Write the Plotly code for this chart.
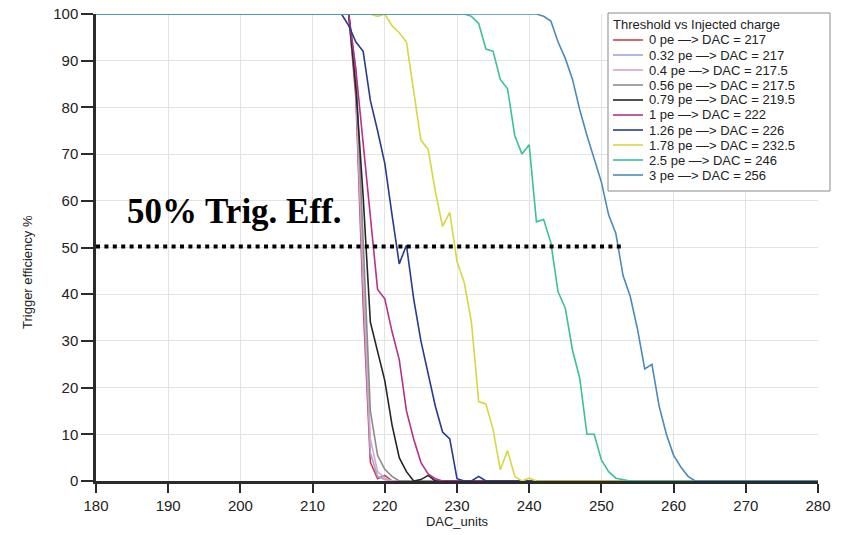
import plotly.graph_objects as go

# ---- trigger efficiency scans (DAC units vs efficiency %) ----
names = [
    "0 pe —> DAC = 217",
    "0.32 pe —> DAC = 217",
    "0.4 pe —> DAC = 217.5",
    "0.56 pe —> DAC = 217.5",
    "0.79 pe —> DAC = 219.5",
    "1 pe —> DAC = 222",
    "1.26 pe —> DAC = 226",
    "1.78 pe —> DAC = 232.5",
    "2.5 pe —> DAC = 246",
    "3 pe —> DAC = 256",
]
colors = ["#cf3f4a", "#a0a3dc", "#d6a6c8", "#8c8c8c", "#262626",
          "#b5318c", "#2a3a8c", "#d8d642", "#3dbf9c", "#4a8bbd"]

x_0pe = [180, 215, 216, 217, 218, 219, 220, 221, 280]
y_0pe = [100, 100, 82, 38, 4, 0.5, 1.2, 0, 0]

x_032pe = [180, 215, 216, 217, 218, 219, 220, 221, 280]
y_032pe = [100, 100, 84, 42, 6, 1, 0.3, 0, 0]

x_04pe = [180, 215, 216, 217, 218, 219, 220, 221, 280]
y_04pe = [100, 100, 86, 45, 9, 2, 0.6, 0, 0]

x_056pe = [180, 215, 216, 217, 218, 219, 220, 221, 222, 280]
y_056pe = [100, 100, 88, 50, 15, 5.5, 2.5, 1, 0, 0]

x_079pe = [180, 215, 216, 217, 218, 219, 220, 221, 222, 223, 224, 225, 226, 227, 280]
y_079pe = [100, 100, 84, 61, 34, 28, 21.5, 12, 5, 2, 0, 0.3, 1.2, 0, 0]

x_1pe = [180, 215, 216, 217, 218, 219, 220, 221, 222, 223, 224, 225, 226, 227, 228, 280]
y_1pe = [100, 100, 88, 72, 56, 41, 39, 32, 26, 15, 9, 4, 1.5, 0.5, 0, 0]

x_126pe = [180, 214, 215, 216, 217, 218, 219, 220, 221, 222, 223, 224, 225, 226, 227,
           228, 229, 230, 231, 232, 233, 234, 280]
y_126pe = [100, 100, 97.5, 94, 92, 81.5, 75, 68, 57, 46.5, 50.5, 39, 30, 23, 16,
           10.5, 9, 0.5, 0, 0, 1, 0, 0]

x_178pe = [180, 218, 219, 220, 221, 222, 223, 224, 225, 226, 227, 228, 229, 230, 231,
           232, 233, 234, 235, 236, 237, 238, 239, 240, 241, 280]
y_178pe = [100, 100, 99.5, 100, 97.5, 96, 94, 84, 73, 71, 62, 54.5, 57.5, 47, 42.5,
           34, 17, 16.5, 11, 2.4, 6.5, 1, 0, 0.6, 0, 0]

x_25pe = [180, 231, 232, 233, 234, 235, 236, 237, 238, 239, 240, 241, 242, 243, 244,
          245, 246, 247, 248, 249, 250, 251, 252, 253, 254, 280]
y_25pe = [100, 100, 99.5, 98, 92.5, 92, 86, 84, 74, 70, 72, 55.5, 56, 51, 40.5,
          37, 28, 22, 10, 10, 4.5, 2, 0.6, 0.3, 0, 0]

x_3pe = [180, 241, 242, 243, 244, 245, 246, 247, 248, 249, 250, 251, 252, 253, 254,
         255, 256, 257, 258, 259, 260, 261, 262, 263, 280]
y_3pe = [100, 100, 99.5, 98.5, 94, 90.5, 86, 79.5, 74, 69, 64, 57, 53, 44, 39.5,
         32.5, 24, 25, 16, 10, 5.5, 3, 1, 0, 0]

xs = [x_0pe, x_032pe, x_04pe, x_056pe, x_079pe, x_1pe, x_126pe, x_178pe, x_25pe, x_3pe]
ys = [y_0pe, y_032pe, y_04pe, y_056pe, y_079pe, y_1pe, y_126pe, y_178pe, y_25pe, y_3pe]

# 50 % efficiency reference line
ref_x = [180, 253]
ref_y = [50.2, 50.2]
ref_label = "50% Trig. Eff."

legend_title = "Threshold vs Injected charge"

SANS = "Liberation Sans, Arial, sans-serif"

fig = go.Figure()
for name, col, x, y in zip(names, colors, xs, ys):
    fig.add_trace(go.Scatter(
        x=x, y=y, name=name, mode="lines",
        line=dict(color=col, width=1.6),
        cliponaxis=False, showlegend=False,
    ))

fig.add_trace(go.Scatter(
    x=ref_x, y=ref_y, mode="lines",
    line=dict(color="black", width=4, dash="4px,4.4px"),
    cliponaxis=False, showlegend=False, hoverinfo="skip",
))

axis_common = dict(
    showgrid=True, gridcolor="#e3e3e3", gridwidth=1,
    showline=True, linecolor="#2b2b2b", linewidth=2.5,
    ticks="outside", tickwidth=2, tickcolor="#2b2b2b",
    tickfont=dict(family=SANS, size=15, color="#222"),
    zeroline=False,
)

fig.update_layout(
    width=842, height=535,
    margin=dict(l=96, r=24, t=14, b=54, autoexpand=False),
    paper_bgcolor="white", plot_bgcolor="white",
    xaxis=dict(range=[180, 280], tick0=180, dtick=10, ticklen=9,
               title=dict(text="DAC_units", font=dict(family=SANS, size=13, color="#222"),
                          standoff=1),
               **axis_common),
    yaxis=dict(range=[0, 100], tick0=0, dtick=10, ticklen=12, **axis_common),
)

# y-axis title
fig.add_annotation(
    text="Trigger efficiency %", xref="paper", yref="paper",
    x=-0.0956, y=0.4475, xanchor="center", yanchor="middle",
    textangle=-90, showarrow=False,
    font=dict(family=SANS, size=13, color="#222"),
)

# label of the reference line
fig.add_annotation(
    text="<b>" + ref_label + "</b>", x=184, y=57.7, xanchor="left", yanchor="middle",
    showarrow=False, font=dict(family="Liberation Serif, Times New Roman, serif",
                               size=35, color="black"),
)

# legend box, laid out in plot-area pixels and converted to paper fractions
PL, PR, PT, PB = 96, 818, 14, 481


def px_x(p):
    return (p - PL) / (PR - PL)


def px_y(p):
    return (PB - p) / (PB - PT)


fig.add_shape(type="rect", xref="paper", yref="paper",
              x0=px_x(608), x1=px_x(830), y0=px_y(191), y1=px_y(13),
              line=dict(color="#8a8a8a", width=1), fillcolor="white", layer="above")
fig.add_annotation(text=legend_title, xref="paper", yref="paper",
                   x=px_x(612), y=px_y(24), xanchor="left", yanchor="middle",
                   showarrow=False, borderpad=0,
                   font=dict(family=SANS, size=13, color="#222"))
for i, (name, col) in enumerate(zip(names, colors)):
    yy = px_y(40 + 15 * i)
    fig.add_shape(type="line", xref="paper", yref="paper",
                  x0=px_x(613), x1=px_x(643), y0=yy, y1=yy,
                  line=dict(color=col, width=1.6), layer="above")
    fig.add_annotation(text=name, xref="paper", yref="paper",
                       x=px_x(648), y=yy, xanchor="left", yanchor="middle",
                       showarrow=False, borderpad=0,
                       font=dict(family=SANS, size=13, color="#222"))

fig.write_html("out.html")
